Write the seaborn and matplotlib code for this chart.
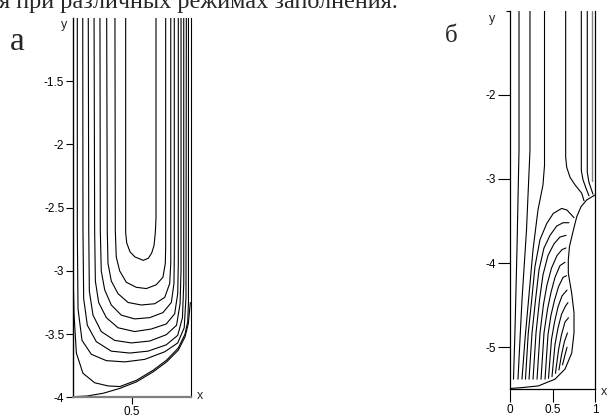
import matplotlib
matplotlib.use("Agg")
import matplotlib.pyplot as plt
import seaborn as sns
import pandas as pd

sns.set_theme(style="white")
plt.rcParams["font.family"] = ["Liberation Sans", "DejaVu Sans"]
plt.rcParams["axes.unicode_minus"] = False

# ---------------- panel a : streamlines (x, y) ----------------
a1_x = [0.449, 0.449, 0.458, 0.486, 0.528, 0.598, 0.641, 0.669, 0.689, 0.700, 0.706, 0.706]
a1_y = [-1.0, -2.70, -2.78, -2.85, -2.89, -2.917, -2.90, -2.86, -2.80, -2.70, -2.58, -1.0]
a2_x = [0.358, 0.361, 0.369, 0.398, 0.454, 0.539, 0.624, 0.708, 0.765, 0.785, 0.788, 0.788, 0.788]
a2_y = [-1.0, -2.68, -2.89, -3.00, -3.09, -3.13, -3.14, -3.11, -3.05, -2.94, -2.81, -2.68, -1.0]
a3_x = [0.288, 0.293, 0.299, 0.327, 0.384, 0.469, 0.581, 0.695, 0.780, 0.822, 0.831, 0.831, 0.831]
a3_y = [-1.0, -2.68, -2.94, -3.08, -3.18, -3.25, -3.27, -3.26, -3.21, -3.10, -2.94, -2.68, -1.0]
a4_x = [0.231, 0.234, 0.242, 0.271, 0.327, 0.412, 0.525, 0.653, 0.765, 0.836, 0.858, 0.861, 0.861, 0.861]
a4_y = [-1.0, -2.68, -3.00, -3.15, -3.27, -3.35, -3.38, -3.37, -3.33, -3.25, -3.10, -2.89, -2.68, -1.0]
a5_x = [0.181, 0.186, 0.192, 0.220, 0.285, 0.384, 0.525, 0.666, 0.793, 0.864, 0.890, 0.895, 0.895, 0.895]
a5_y = [-1.0, -2.68, -3.08, -3.25, -3.37, -3.45, -3.48, -3.46, -3.42, -3.34, -3.18, -2.94, -2.68, -1.0]
a6_x = [0.132, 0.136, 0.141, 0.172, 0.242, 0.356, 0.497, 0.653, 0.793, 0.880, 0.910, 0.918, 0.918]
a6_y = [-1.0, -2.68, -3.16, -3.35, -3.48, -3.55, -3.57, -3.555, -3.505, -3.43, -3.26, -3.00, -1.0]
a7_x = [0.085, 0.087, 0.093, 0.124, 0.200, 0.327, 0.483, 0.638, 0.793, 0.890, 0.930, 0.941, 0.941]
a7_y = [-1.0, -2.68, -3.22, -3.43, -3.56, -3.635, -3.65, -3.635, -3.585, -3.51, -3.37, -3.10, -1.0]
a8_x = [0.039, 0.039, 0.045, 0.079, 0.158, 0.285, 0.441, 0.610, 0.780, 0.890, 0.945, 0.960, 0.963]
a8_y = [-1.0, -2.68, -3.30, -3.55, -3.66, -3.71, -3.72, -3.70, -3.64, -3.57, -3.45, -3.21, -1.0]
a9_x = [0.003, 0.003, 0.011, 0.031, 0.087, 0.186, 0.299, 0.400, 0.541, 0.683, 0.797, 0.895, 0.952, 0.975, 0.981, 0.981]
a9_y = [-1.0, -3.0, -3.34, -3.65, -3.81, -3.885, -3.91, -3.915, -3.865, -3.785, -3.705, -3.61, -3.50, -3.40, -3.25, -1.0]
a_bnd_x = [0.0, 0.119, 0.259, 0.401, 0.542, 0.683, 0.797, 0.895, 0.952, 0.980, 0.997]
a_bnd_y = [-3.995, -3.99, -3.968, -3.929, -3.877, -3.798, -3.719, -3.627, -3.522, -3.416, -3.25]

a_yticks = [-4, -3.5, -3, -2.5, -2, -1.5]
a_ytick_labels = ["-4", "-3.5", "-3", "-2.5", "-2", "-1.5"]
a_xticks = [0.5]
a_xtick_labels = ["0.5"]

# ---------------- panel b : streamlines (x, y) ----------------
b_surf_x = [0.0, 0.138, 0.333, 0.529, 0.647, 0.726, 0.753, 0.753, 0.726, 0.686, 0.686, 0.700, 0.745, 0.785, 0.835, 0.902, 1.0]
b_surf_y = [-5.49, -5.48, -5.46, -5.38, -5.26, -5.07, -4.83, -4.59, -4.36, -4.12, -3.96, -3.80, -3.61, -3.45, -3.33, -3.25, -3.19]
bA_x = [0.106, 0.106, 0.082, 0.059, 0.041]
bA_y = [-1.0, -2.66, -3.84, -4.79, -5.38]
bB_x = [0.235, 0.235, 0.194, 0.141, 0.094]
bB_y = [-1.0, -2.66, -3.61, -4.44, -5.38]
bC_x = [0.406, 0.406, 0.388, 0.329, 0.271, 0.218, 0.176, 0.141]
bC_y = [-1.0, -2.84, -3.07, -3.37, -3.84, -4.44, -4.91, -5.38]
bH1_x = [0.182, 0.215, 0.255, 0.294, 0.353, 0.432, 0.509, 0.608, 0.671, 0.753]
bH1_y = [-5.38, -4.83, -4.44, -4.04, -3.72, -3.53, -3.41, -3.35, -3.37, -3.46]
bH2_x = [0.224, 0.259, 0.300, 0.341, 0.400, 0.471, 0.549, 0.624, 0.694]
bH2_y = [-5.38, -4.83, -4.44, -4.08, -3.82, -3.67, -3.56, -3.52, -3.52]
bH3_x = [0.271, 0.306, 0.347, 0.388, 0.447, 0.518, 0.588, 0.659]
bH3_y = [-5.38, -4.83, -4.44, -4.14, -3.91, -3.77, -3.69, -3.67]
bH4_x = [0.318, 0.353, 0.394, 0.435, 0.488, 0.553, 0.612, 0.659]
bH4_y = [-5.38, -4.83, -4.49, -4.26, -4.06, -3.91, -3.84, -3.82]
bH5_x = [0.365, 0.400, 0.441, 0.482, 0.529, 0.588, 0.647]
bH5_y = [-5.38, -4.83, -4.55, -4.35, -4.17, -4.03, -3.99]
bH6_x = [0.412, 0.447, 0.482, 0.524, 0.571, 0.624, 0.665]
bH6_y = [-5.38, -4.85, -4.62, -4.44, -4.28, -4.17, -4.15]
bH7_x = [0.453, 0.488, 0.524, 0.565, 0.612, 0.671]
bH7_y = [-5.37, -4.91, -4.70, -4.52, -4.39, -4.32]
bH8_x = [0.494, 0.529, 0.565, 0.606, 0.653, 0.682]
bH8_y = [-5.35, -4.97, -4.77, -4.61, -4.51, -4.47]
bH9_x = [0.535, 0.571, 0.606, 0.647, 0.688]
bH9_y = [-5.31, -5.03, -4.85, -4.70, -4.65]
bH10_x = [0.576, 0.606, 0.641, 0.676]
bH10_y = [-5.27, -5.09, -4.93, -4.83]
bH11_x = [0.618, 0.647, 0.671]
bH11_y = [-5.21, -5.09, -5.00]
bD_x = [0.655, 0.655, 0.667, 0.706, 0.765, 0.844, 0.871]
bD_y = [-1.0, -2.74, -2.86, -2.98, -3.07, -3.17, -3.26]
bE_x = [0.839, 0.839, 0.859, 0.894, 0.929]
bE_y = [-1.0, -2.90, -3.01, -3.11, -3.20]
bF_x = [0.909, 0.909, 0.929, 0.959, 0.976]
bF_y = [-1.0, -2.92, -3.04, -3.13, -3.18]
bG_x = [0.961, 0.961]
bG_y = [-1.0, -3.03]

b_yticks = [-5, -4, -3, -2]
b_ytick_labels = ["-5", "-4", "-3", "-2"]
b_xticks = [0, 0.5, 1]
b_xtick_labels = ["0", "0.5", "1"]

caption = "я при различных режимах заполнения."
label_a = "а"
label_b = "б"


def frame(curves):
    parts = []
    for name, (xs, ys) in curves.items():
        parts.append(pd.DataFrame({"x": xs, "y": ys, "curve": name}))
    return pd.concat(parts, ignore_index=True)


df_a = frame({
    "a1": (a1_x, a1_y), "a2": (a2_x, a2_y), "a3": (a3_x, a3_y),
    "a4": (a4_x, a4_y), "a5": (a5_x, a5_y), "a6": (a6_x, a6_y),
    "a7": (a7_x, a7_y), "a8": (a8_x, a8_y), "a9": (a9_x, a9_y),
    "bnd": (a_bnd_x, a_bnd_y),
})
df_b = frame({
    "surf": (b_surf_x, b_surf_y), "A": (bA_x, bA_y), "B": (bB_x, bB_y),
    "C": (bC_x, bC_y), "H1": (bH1_x, bH1_y), "H2": (bH2_x, bH2_y),
    "H3": (bH3_x, bH3_y), "H4": (bH4_x, bH4_y), "H5": (bH5_x, bH5_y),
    "H6": (bH6_x, bH6_y), "H7": (bH7_x, bH7_y), "H8": (bH8_x, bH8_y),
    "H9": (bH9_x, bH9_y), "H10": (bH10_x, bH10_y), "H11": (bH11_x, bH11_y),
    "D": (bD_x, bD_y), "E": (bE_x, bE_y), "F": (bF_x, bF_y),
})
df_bg = frame({"G": (bG_x, bG_y)})

W, H = 615, 415
fig = plt.figure(figsize=(W / 100, H / 100), dpi=100)
fig.patch.set_facecolor("white")

axa = fig.add_axes([72.7 / W, 1 - 397.3 / H, 118 / W, (397.3 - 18) / H])
axb = fig.add_axes([510 / W, 1 - 389.3 / H, 85 / W, (389.3 - 10.7) / H])

line_kw = dict(x="x", y="y", units="curve", estimator=None, sort=False,
               color="black", lw=0.8, legend=False)
sns.lineplot(data=df_a, ax=axa, **line_kw)
sns.lineplot(data=df_b, ax=axb, **line_kw)
sns.lineplot(data=df_bg, ax=axb, x="x", y="y", units="curve", estimator=None,
             sort=False, color="#808080", lw=1.0, legend=False)

# panel a axes
axa.set_xlim(0, 1)
axa.set_ylim(-4, -1)
axa.set_yticks(a_yticks)
axa.set_yticklabels(a_ytick_labels)
axa.set_xticks(a_xticks)
axa.set_xticklabels(a_xtick_labels)
axa.set_xlabel("")
axa.set_ylabel("")
axa.spines["top"].set_visible(False)
axa.spines["left"].set_color("black")
axa.spines["left"].set_linewidth(1.0)
axa.spines["right"].set_color("black")
axa.spines["right"].set_linewidth(0.8)
axa.spines["bottom"].set_color("#7f7f7f")
axa.spines["bottom"].set_linewidth(1.6)
axa.tick_params(axis="both", which="major", direction="out", length=5, width=0.8,
                color="black", labelsize=8.5, labelcolor="black", left=True, bottom=True)
axa.tick_params(axis="y", pad=1)
axa.tick_params(axis="x", pad=1.5)

# panel b axes
axb.set_xlim(0, 1)
axb.set_ylim(-5.5, -1)
axb.set_yticks(b_yticks)
axb.set_yticklabels(b_ytick_labels)
axb.set_yticks([-1], minor=True)
axb.set_xticks(b_xticks)
axb.set_xticklabels(b_xtick_labels)
axb.set_xlabel("")
axb.set_ylabel("")
axb.spines["top"].set_visible(False)
for s in ("left", "right", "bottom"):
    axb.spines[s].set_color("black")
    axb.spines[s].set_linewidth(0.9)
axb.tick_params(axis="both", which="major", direction="out", length=9, width=0.8,
                color="black", labelsize=8.5, labelcolor="black", left=True, bottom=True)
axb.tick_params(axis="y", which="minor", direction="out", length=3, width=0.8,
                color="black", left=True)
axb.tick_params(axis="y", pad=1)
axb.tick_params(axis="x", pad=1.5)

for ax in (axa, axb):
    ax.set_facecolor("white")
    ax.grid(False)

# axis letters
fig.text(64 / W, 1 - 25 / H, "y", ha="center", va="center", fontsize=9)
fig.text(200 / W, 1 - 396 / H, "x", ha="center", va="center", fontsize=9)
fig.text(492 / W, 1 - 19 / H, "y", ha="center", va="center", fontsize=9)
fig.text(604 / W, 1 - 392 / H, "x", ha="center", va="center", fontsize=9)

# panel letters and cropped caption
serif = ["Liberation Serif", "DejaVu Serif"]
fig.text(10 / W, 1 - 50 / H, label_a, ha="left", va="baseline", fontsize=24, family=serif)
fig.text(445 / W, 1 - 41.7 / H, label_b, ha="left", va="baseline", fontsize=18, family=serif)
fig.text(-1 / W, 1 - 8 / H, caption, ha="left", va="baseline", fontsize=17.5, family=serif)

fig.savefig("out.png", dpi=100, facecolor="white")
